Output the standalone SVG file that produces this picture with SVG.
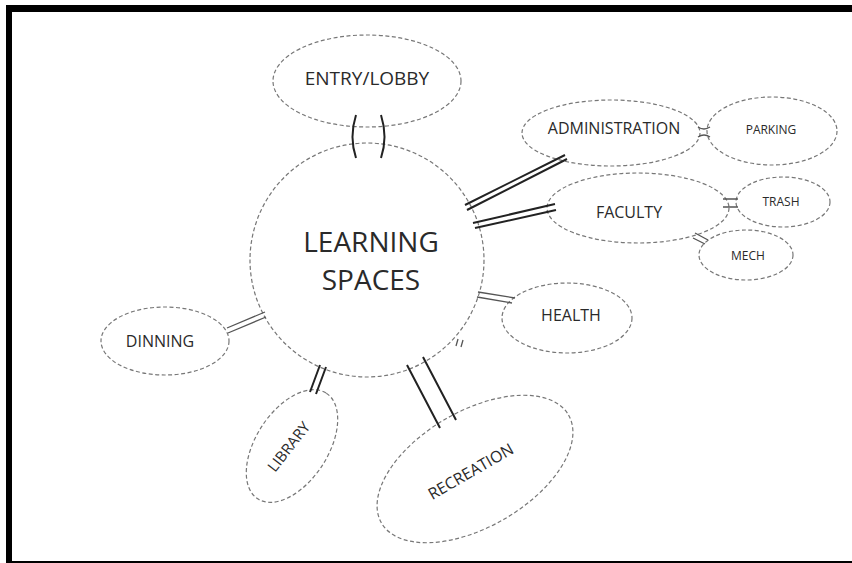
<svg xmlns="http://www.w3.org/2000/svg" width="852" height="563" viewBox="0 0 852 563">
<style>
.n{fill:none;stroke:#777;stroke-width:1.2;stroke-dasharray:4 2.5}
.t{font-family:"Open Sans","Liberation Sans",sans-serif;fill:#2a2a2a;text-anchor:middle}
.c{fill:none;stroke:#222;stroke-width:2}
.cl{fill:none;stroke:#555;stroke-width:1.3}
</style>
<rect x="0" y="0" width="852" height="563" fill="#fff"/>
<path d="M6 563V5H852V12H12V561H852V563Z" fill="#000"/>
<g id="learning"><circle class="n" cx="367" cy="260" r="117"/><text class="t" x="371" y="252" font-size="28">LEARNING</text><text class="t" x="371" y="290" font-size="28">SPACES</text></g>
<g id="entry"><ellipse class="n" cx="367" cy="81" rx="94" ry="46"/><text class="t" x="367" y="85" font-size="19">ENTRY/LOBBY</text></g>
<g id="administration"><ellipse class="n" cx="611" cy="133" rx="89" ry="33"/><text class="t" x="614" y="134" font-size="16">ADMINISTRATION</text></g>
<g id="parking"><ellipse class="n" cx="772" cy="131" rx="65" ry="34"/><text class="t" x="771" y="134" font-size="12">PARKING</text></g>
<g id="faculty"><ellipse class="n" cx="638" cy="208" rx="91" ry="35"/><text class="t" x="629" y="218" font-size="16">FACULTY</text></g>
<g id="trash"><ellipse class="n" cx="783" cy="202" rx="47" ry="25"/><text class="t" x="781" y="206" font-size="12">TRASH</text></g>
<g id="mech"><ellipse class="n" cx="746" cy="255" rx="47" ry="25"/><text class="t" x="748" y="260" font-size="12">MECH</text></g>
<g id="health"><ellipse class="n" cx="567" cy="318" rx="65" ry="35"/><text class="t" x="571" y="321" font-size="16">HEALTH</text></g>
<g id="dinning"><ellipse class="n" cx="165" cy="341" rx="64" ry="34"/><text class="t" x="160" y="347" font-size="16">DINNING</text></g>
<g id="library"><ellipse class="n" cx="292" cy="446" rx="63" ry="36" transform="rotate(-57 292 446)"/><text class="t" x="0" y="5" font-size="15" transform="translate(289 447) rotate(-52)">LIBRARY</text></g>
<g id="recreation"><ellipse class="n" cx="475" cy="469" rx="108" ry="58" transform="rotate(-30 475 469)"/><text class="t" x="0" y="5" font-size="16" transform="translate(471 472) rotate(-30)">RECREATION</text></g>
<g id="connectors">
<path class="c" d="M356 115Q349 137 356 158M381 115Q388 137 381 158"/>
<path class="c" d="M465 205L565 155M467 210L567 159"/>
<path class="c" d="M473 223L555 204M475 228L556 210"/>
<path class="cl" d="M478 292L515 298M477 297L512 303"/>
<path class="cl" d="M456 346L458 339M461 347L463 340"/>
<path class="c" d="M407 365L440 428M423 357L456 420"/>
<path class="c" d="M320 365L310 392M326 367L316 394"/>
<path class="cl" d="M227 328L265 312M228 333L266 317"/>
<path class="cl" d="M698 127Q704 131 710 127M698 137Q704 133 710 137"/>
<path class="cl" d="M723 199L738 199M723 207L738 207"/>
<path class="cl" d="M695 233L708 240M693 238L705 244"/>
</g>
</svg>
